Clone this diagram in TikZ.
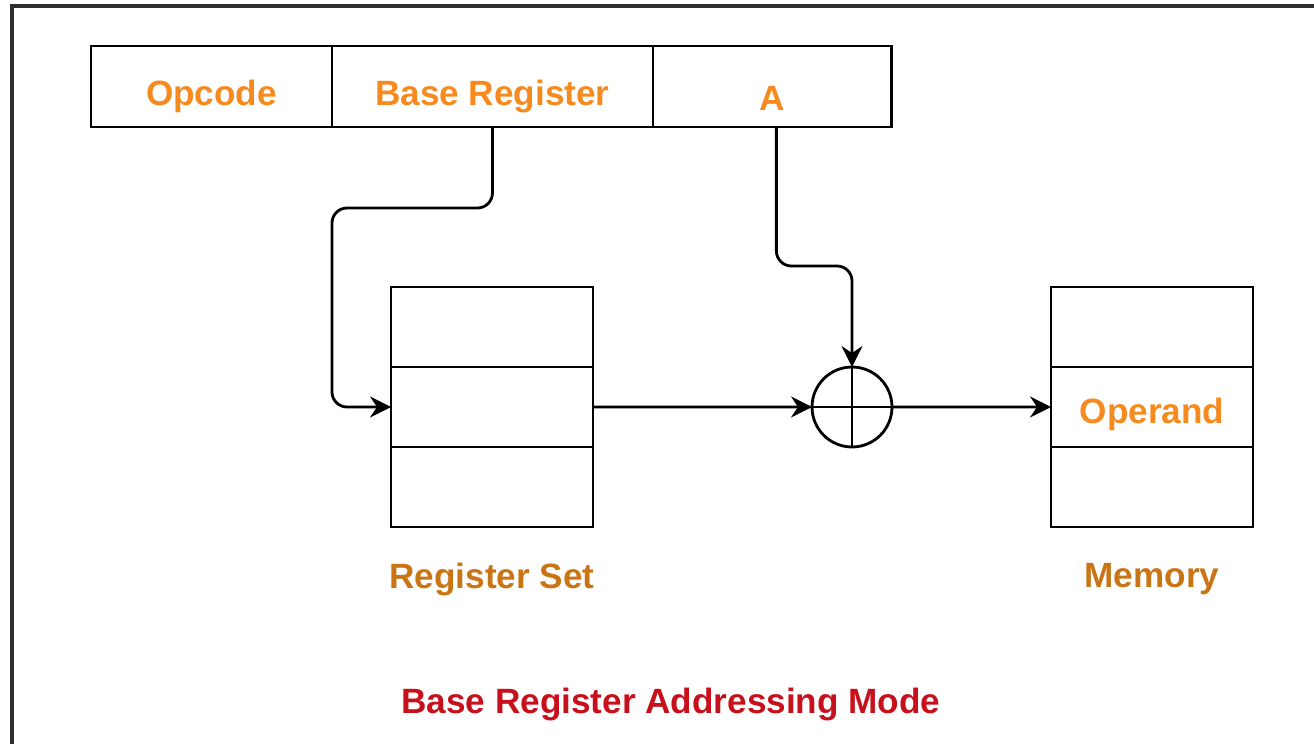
\documentclass[tikz,border=0pt]{standalone}
\usepackage{fontspec}
\setmainfont{Liberation Sans}
\usetikzlibrary{positioning,arrows.meta}

\definecolor{fieldorange}{HTML}{F68A1E}
\definecolor{labelbrown}{HTML}{C97516}
\definecolor{titlered}{HTML}{C8101C}
\definecolor{framegray}{HTML}{2E2E2E}

\tikzset{
	bigfont/.style={font=\bfseries\fontsize{20}{24}\selectfont},
	field/.style={draw, line width=1.6pt, minimum height=1.62cm, inner sep=0pt, outer sep=0pt, bigfont, text=fieldorange, text height=22pt, text depth=0pt},
	cell/.style={draw, line width=1.6pt, minimum width=4.04cm, minimum height=1.6cm, inner sep=0pt, outer sep=0pt, bigfont, text=fieldorange},
	link/.style={line width=1.6pt, rounded corners=0.3cm},
	arrowlink/.style={link, -{Stealth[length=0.42cm, width=0.42cm, inset=0.14cm]}}
}

\begin{document}
\begin{tikzpicture}[x=0.02cm, y=-0.02cm]
		\useasboundingbox (0,0) rectangle (1314,744);
		\draw[framegray, line width=2pt] (1314,6) -- (12,6) -- (12,744); % Draw the outer frame

		% instruction format
		\node[field, minimum width=4.82cm] (opcode) at (211.5,86.5) {Opcode};
		\node[field, minimum width=6.42cm, right=0pt of opcode] (basereg) {Base Register};
		\node[field, minimum width=4.78cm, text height=27pt, right=0pt of basereg] (afield) {A};

		% register set
		\node[cell] (regA) at (492,327) {};
		\node[cell, below=0pt of regA] (regB) {};
		\node[cell, below=0pt of regB] (regC) {};
		\node[bigfont, text=labelbrown, below=0.6cm of regC] (reglabel) {Register Set};

		% memory
		\node[cell] (memA) at (1152,327) {};
		\node[cell, text height=19pt, text depth=0pt, below=0pt of memA] (memB) {Operand};
		\node[cell, below=0pt of memB] (memC) {};
		\node[bigfont, text=labelbrown, below=0.6cm of memC] (memlabel) {Memory};

		% adder
		\node[draw, circle, line width=1.6pt, minimum size=1.6cm, inner sep=0pt, outer sep=0pt] (adder) at (852,407) {};
		\draw[line width=1.6pt] (adder.north) -- (adder.south); % Draw the cross
		\draw[line width=1.6pt] (adder.west) -- (adder.east);

		\coordinate (bendB) at (332,208);
		\coordinate (bendA) at (852,266);

		\draw[arrowlink] (basereg.south) |- (bendB) |- (regB.west); % base register to register set
		\draw[arrowlink] ([xshift=0.08cm]afield.south) |- (bendA) -- (adder.north); % displacement to adder
		\draw[arrowlink] (regB.east) -- (adder.west); % register contents to adder
		\draw[arrowlink] (adder.east) -- (memB.west); % effective address to memory

		\node[bigfont, text=titlered] (title) at (671,704) {Base Register Addressing Mode};
	\end{tikzpicture}
\end{document}
